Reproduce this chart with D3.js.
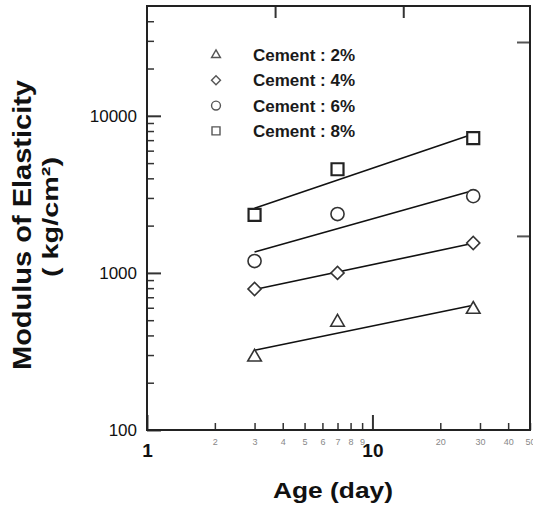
<!DOCTYPE html>
<html>
<head>
<meta charset="utf-8">
<script src="https://cdn.jsdelivr.net/npm/d3@7"></script>
<style>
  body { margin: 0; background: #fff; }
  svg { display: block; font-family: "Liberation Sans", Arial, sans-serif; }
</style>
</head>
<body>
<div id="chart"></div>
<script>
// data
const ages = [3, 7, 28];
const seriesLabels = ["Cement : 2%", "Cement : 4%", "Cement : 6%", "Cement : 8%"];
const cement2 = [291, 485, 586];
const cement4 = [790, 1000, 1550];
const cement6 = [1190, 2370, 3080];
const cement8 = [2340, 4570, 7200];

// tick values
const xMajorTicks = [1, 10];
const xMinorTicks = [2, 3, 4, 5, 6, 7, 8, 9, 20, 30, 40, 50];
const yMajorTicks = [100, 1000, 10000];
const yMinorTicks = [200, 300, 400, 500, 600, 700, 800, 900,
                     2000, 3000, 4000, 5000, 6000, 7000, 8000, 9000,
                     20000, 30000, 40000];
// stray ticks on the top and right frame of the original figure
const topTicks = [3.7, 13.7];
const rightTicks = [1720, 29500];

const W = 533, H = 510;
const svg = d3.select("#chart").append("svg")
    .attr("width", W)
    .attr("height", H);

// log scales
const x = d3.scaleLog().domain([1, 50]).range([147, 530]);
const y = d3.scaleLog().domain([100, 50000]).range([430, 6]);

const seriesValues = [cement2, cement4, cement6, cement8];
const symbolTypes = [d3.symbolTriangle, d3.symbolSquare, d3.symbolCircle, d3.symbolSquare];
const symbolRotate = [0, 45, 0, 0];
const plotSizes = [80, 86, 135, 144];
const legendSizes = [34, 40, 62, 64];

// least squares fit in log-log space, drawn over the measured ages
function fitLine(xs, ys) {
    const lx = xs.map(Math.log10), ly = ys.map(Math.log10);
    const mx = d3.mean(lx), my = d3.mean(ly);
    const b = d3.sum(lx, (v, i) => (v - mx) * (ly[i] - my)) / d3.sum(lx, v => (v - mx) * (v - mx));
    const a = my - b * mx;
    const x0 = d3.min(xs), x1 = d3.max(xs);
    return [[x0, Math.pow(10, a + b * Math.log10(x0))], [x1, Math.pow(10, a + b * Math.log10(x1))]];
}

// bottom axis: small minor labels
svg.append("g")
    .attr("transform", "translate(0," + y.range()[0] + ")")
    .call(d3.axisBottom(x).tickValues(xMinorTicks).tickSize(-7).tickPadding(9)
        .tickFormat(d3.format("d")))
    .call(g => g.select(".domain").remove())
    .call(g => g.selectAll(".tick line").attr("stroke", "#333").attr("stroke-width", 1.5))
    .call(g => g.selectAll(".tick text").attr("fill", "#888").style("font-size", "9px"));

// bottom axis: major labels
svg.append("g")
    .attr("transform", "translate(0," + y.range()[0] + ")")
    .call(d3.axisBottom(x).tickValues(xMajorTicks).tickSize(-15).tickPadding(14)
        .tickFormat(d3.format("d")))
    .call(g => g.select(".domain").remove())
    .call(g => g.selectAll(".tick line").attr("stroke", "#333").attr("stroke-width", 2))
    .call(g => g.selectAll(".tick text").attr("fill", "#111")
        .style("font-size", "19px").style("font-weight", "bold"));

// left axis
svg.append("g")
    .attr("transform", "translate(" + x.range()[0] + ",0)")
    .call(d3.axisLeft(y).tickValues(yMinorTicks).tickSize(-7).tickFormat(""))
    .call(g => g.select(".domain").remove())
    .call(g => g.selectAll(".tick line").attr("stroke", "#333").attr("stroke-width", 1.5));

svg.append("g")
    .attr("transform", "translate(" + x.range()[0] + ",0)")
    .call(d3.axisLeft(y).tickValues(yMajorTicks).tickSize(-14).tickPadding(10)
        .tickFormat(d3.format("d")))
    .call(g => g.select(".domain").remove())
    .call(g => g.selectAll(".tick line").attr("stroke", "#333").attr("stroke-width", 2))
    .call(g => g.selectAll(".tick text").attr("fill", "#111").style("font-size", "17px"));

// top and right ticks
svg.append("g")
    .attr("transform", "translate(0," + y.range()[1] + ")")
    .call(d3.axisTop(x).tickValues(topTicks).tickSize(-12).tickFormat(""))
    .call(g => g.select(".domain").remove())
    .call(g => g.selectAll(".tick line").attr("stroke", "#333").attr("stroke-width", 2));

svg.append("g")
    .attr("transform", "translate(" + x.range()[1] + ",0)")
    .call(d3.axisRight(y).tickValues(rightTicks).tickSize(-13).tickFormat(""))
    .call(g => g.select(".domain").remove())
    .call(g => g.selectAll(".tick line").attr("stroke", "#555").attr("stroke-width", 2));

// frame
svg.append("rect")
    .attr("x", x.range()[0])
    .attr("y", y.range()[1])
    .attr("width", x.range()[1] - x.range()[0])
    .attr("height", y.range()[0] - y.range()[1])
    .attr("fill", "none")
    .attr("stroke", "#222")
    .attr("stroke-width", 2);

// fitted lines
const line = d3.line().x(d => x(d[0])).y(d => y(d[1]));
svg.selectAll(".fit")
    .data(seriesValues)
    .enter().append("path")
    .attr("class", "fit")
    .attr("d", vals => line(fitLine(ages, vals)))
    .attr("fill", "none")
    .attr("stroke", "#111")
    .attr("stroke-width", 1.6);

// markers
seriesValues.forEach(function (vals, s) {
    svg.selectAll(".pt" + s)
        .data(vals)
        .enter().append("path")
        .attr("class", "pt" + s)
        .attr("d", d3.symbol().type(symbolTypes[s]).size(plotSizes[s]))
        .attr("transform", (v, i) => "translate(" + x(ages[i]) + "," + y(v) + ") rotate(" + symbolRotate[s] + ")")
        .attr("fill", "#fff")
        .attr("stroke", s === 3 ? "#222" : "#333")
        .attr("stroke-width", s === 3 ? 2.2 : 1.6);
});

// legend
const legend = svg.selectAll(".legend")
    .data(seriesLabels)
    .enter().append("g")
    .attr("class", "legend")
    .attr("transform", (d, i) => "translate(216," + (55 + i * 25.3) + ")");

legend.append("path")
    .attr("d", (d, i) => d3.symbol().type(symbolTypes[i]).size(legendSizes[i])())
    .attr("transform", (d, i) => "rotate(" + symbolRotate[i] + ")")
    .attr("fill", "#fff")
    .attr("stroke", "#555")
    .attr("stroke-width", 1.4);

legend.append("text")
    .attr("x", 37)
    .attr("dy", "0.36em")
    .attr("fill", "#1a1a1a")
    .style("font-size", "17px")
    .style("font-weight", "bold")
    .attr("textLength", 102)
    .attr("lengthAdjust", "spacingAndGlyphs")
    .text(d => d);

// axis titles
svg.append("text")
    .attr("transform", "translate(31,225) rotate(-90)")
    .attr("text-anchor", "middle")
    .attr("fill", "#111")
    .style("font-size", "26px")
    .style("font-weight", "bold")
    .attr("textLength", 290)
    .attr("lengthAdjust", "spacingAndGlyphs")
    .text("Modulus of Elasticity");

svg.append("text")
    .attr("transform", "translate(58,217) rotate(-90)")
    .attr("text-anchor", "middle")
    .attr("fill", "#111")
    .style("font-size", "22px")
    .style("font-weight", "bold")
    .attr("textLength", 120)
    .attr("lengthAdjust", "spacingAndGlyphs")
    .text("( kg/cm²)");

svg.append("text")
    .attr("x", 333)
    .attr("y", 498)
    .attr("text-anchor", "middle")
    .attr("fill", "#111")
    .style("font-size", "22px")
    .style("font-weight", "bold")
    .attr("textLength", 120)
    .attr("lengthAdjust", "spacingAndGlyphs")
    .text("Age (day)");
</script>
</body>
</html>
